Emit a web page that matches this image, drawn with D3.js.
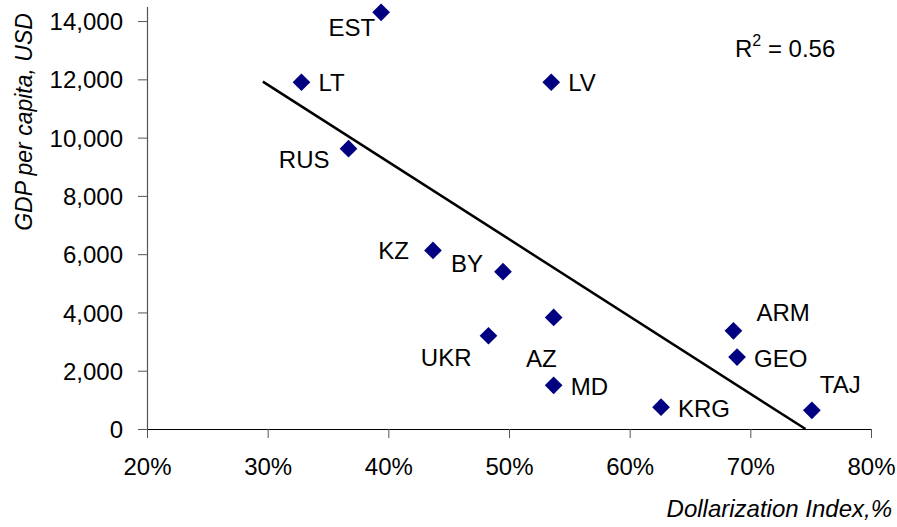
<!DOCTYPE html>
<html>
<head>
<meta charset="utf-8">
<script src="https://cdn.jsdelivr.net/npm/d3@7/dist/d3.min.js"></script>
<style>
  body { margin: 0; background: white; }
  text { font-family: "Liberation Sans", Arial, sans-serif; fill: #000; }
</style>
</head>
<body>
<script>
// data
var countries = ["EST", "LT", "LV", "RUS", "KZ", "BY", "AZ", "UKR", "MD", "KRG", "ARM", "GEO", "TAJ"];
var dollarization = [39.4, 32.8, 53.5, 36.7, 43.7, 49.5, 53.7, 48.3, 53.7, 62.6, 68.6, 68.9, 75.1];
var gdpPerCapita = [14300, 11900, 11900, 9620, 6130, 5400, 3830, 3200, 1500, 750, 3370, 2470, 640];
var xTicks = [20, 30, 40, 50, 60, 70, 80];
var yTicks = [0, 2000, 4000, 6000, 8000, 10000, 12000, 14000];
var trendStart = 29.6; // trendline drawn back from here
var rSquared = "0.56";

// where each label sits relative to its marker
var labelPlace = {
  EST: {anchor: "end", dx: -6, dy: 15},
  LT: {anchor: "start", dx: 17, dy: 0},
  LV: {anchor: "start", dx: 17, dy: 0},
  RUS: {anchor: "end", dx: -19, dy: 11},
  KZ: {anchor: "end", dx: -24, dy: 0},
  BY: {anchor: "end", dx: -20, dy: -8},
  AZ: {anchor: "end", dx: 3, dy: 41},
  UKR: {anchor: "end", dx: -17, dy: 22},
  MD: {anchor: "start", dx: 17, dy: 1},
  KRG: {anchor: "start", dx: 17, dy: 1},
  ARM: {anchor: "start", dx: 23, dy: -18},
  GEO: {anchor: "start", dx: 17, dy: 1},
  TAJ: {anchor: "start", dx: 8, dy: -26}
};

var width = 897, height = 527;
var margin = {top: 6.5, left: 147, right: 26, bottom: 98};

var svg = d3.select("body").append("svg")
  .attr("width", width)
  .attr("height", height);

var xScale = d3.scaleLinear()
  .domain([20, 80])
  .range([margin.left, width - margin.right]);

var yScale = d3.scaleLinear()
  .domain([0, 14500])
  .range([height - margin.bottom, margin.top]);

// Axes
var yAxis = svg.append("g")
  .attr("transform", `translate(${margin.left},0)`)
  .call(d3.axisLeft(yScale).tickValues(yTicks).tickSize(9).tickPadding(15)
    .tickFormat(d3.format(",")).tickSizeOuter(0));
yAxis.select(".domain").attr("stroke", "#555").attr("stroke-width", 1.2);
yAxis.selectAll(".tick line").attr("stroke", "#555");
yAxis.selectAll(".tick text")
  .style("font-size", "24px")
  .attr("font-family", null)
  .attr("dy", "0.36em");

var xAxis = svg.append("g")
  .attr("transform", `translate(0,${yScale(0)})`)
  .call(d3.axisBottom(xScale).tickValues(xTicks).tickSize(9).tickPadding(20)
    .tickFormat(function(d) { return d + "%"; }).tickSizeOuter(0));
xAxis.select(".domain").attr("stroke", "#000").attr("stroke-width", 1.2);
xAxis.selectAll(".tick line").attr("stroke", "#555");
xAxis.selectAll(".tick text")
  .style("font-size", "24px")
  .attr("font-family", null)
  .attr("dy", "0.71em");

// Axis titles
svg.append("text")
  .attr("transform", "translate(32," + 122 + ") rotate(-90)")
  .attr("text-anchor", "middle")
  .style("font-size", "23px")
  .style("font-style", "italic")
  .text("GDP per capita, USD");

svg.append("text")
  .attr("x", 892)
  .attr("y", 517)
  .attr("text-anchor", "end")
  .style("font-size", "24px")
  .style("font-style", "italic")
  .text("Dollarization Index,%");

// Linear trendline (least squares)
var meanX = d3.mean(dollarization), meanY = d3.mean(gdpPerCapita);
var sxy = d3.sum(dollarization, function(x, i) { return (x - meanX) * (gdpPerCapita[i] - meanY); });
var sxx = d3.sum(dollarization, function(x) { return (x - meanX) * (x - meanX); });
var slope = sxy / sxx;
var intercept = meanY - slope * meanX;
var trendEnd = -intercept / slope; // clipped where it hits zero

svg.append("line")
  .attr("x1", xScale(trendStart))
  .attr("y1", yScale(intercept + slope * trendStart))
  .attr("x2", xScale(trendEnd))
  .attr("y2", yScale(0))
  .attr("stroke", "#000")
  .attr("stroke-width", 2.5);

// Markers
var diamond = d3.symbol().type(d3.symbolDiamond2).size(200);
svg.selectAll(".pt")
  .data(countries)
  .enter()
  .append("path")
  .attr("class", "pt")
  .attr("d", diamond)
  .attr("fill", "#000080")
  .attr("transform", function(d, i) {
    return "translate(" + xScale(dollarization[i]) + "," + yScale(gdpPerCapita[i]) + ")";
  });

// Labels
svg.selectAll(".lbl")
  .data(countries)
  .enter()
  .append("text")
  .attr("class", "lbl")
  .attr("x", function(d, i) { return xScale(dollarization[i]) + labelPlace[d].dx; })
  .attr("y", function(d, i) { return yScale(gdpPerCapita[i]) + labelPlace[d].dy + 8.6; })
  .attr("text-anchor", function(d) { return labelPlace[d].anchor; })
  .style("font-size", "24px")
  .text(function(d) { return d; });

// R squared
var r2 = svg.append("text")
  .attr("x", 735)
  .attr("y", 57)
  .style("font-size", "24px");
r2.append("tspan").text("R");
r2.append("tspan").attr("dy", -11).style("font-size", "16px").text("2");
r2.append("tspan").attr("dy", 11).text(" = " + rSquared);
</script>
</body>
</html>
